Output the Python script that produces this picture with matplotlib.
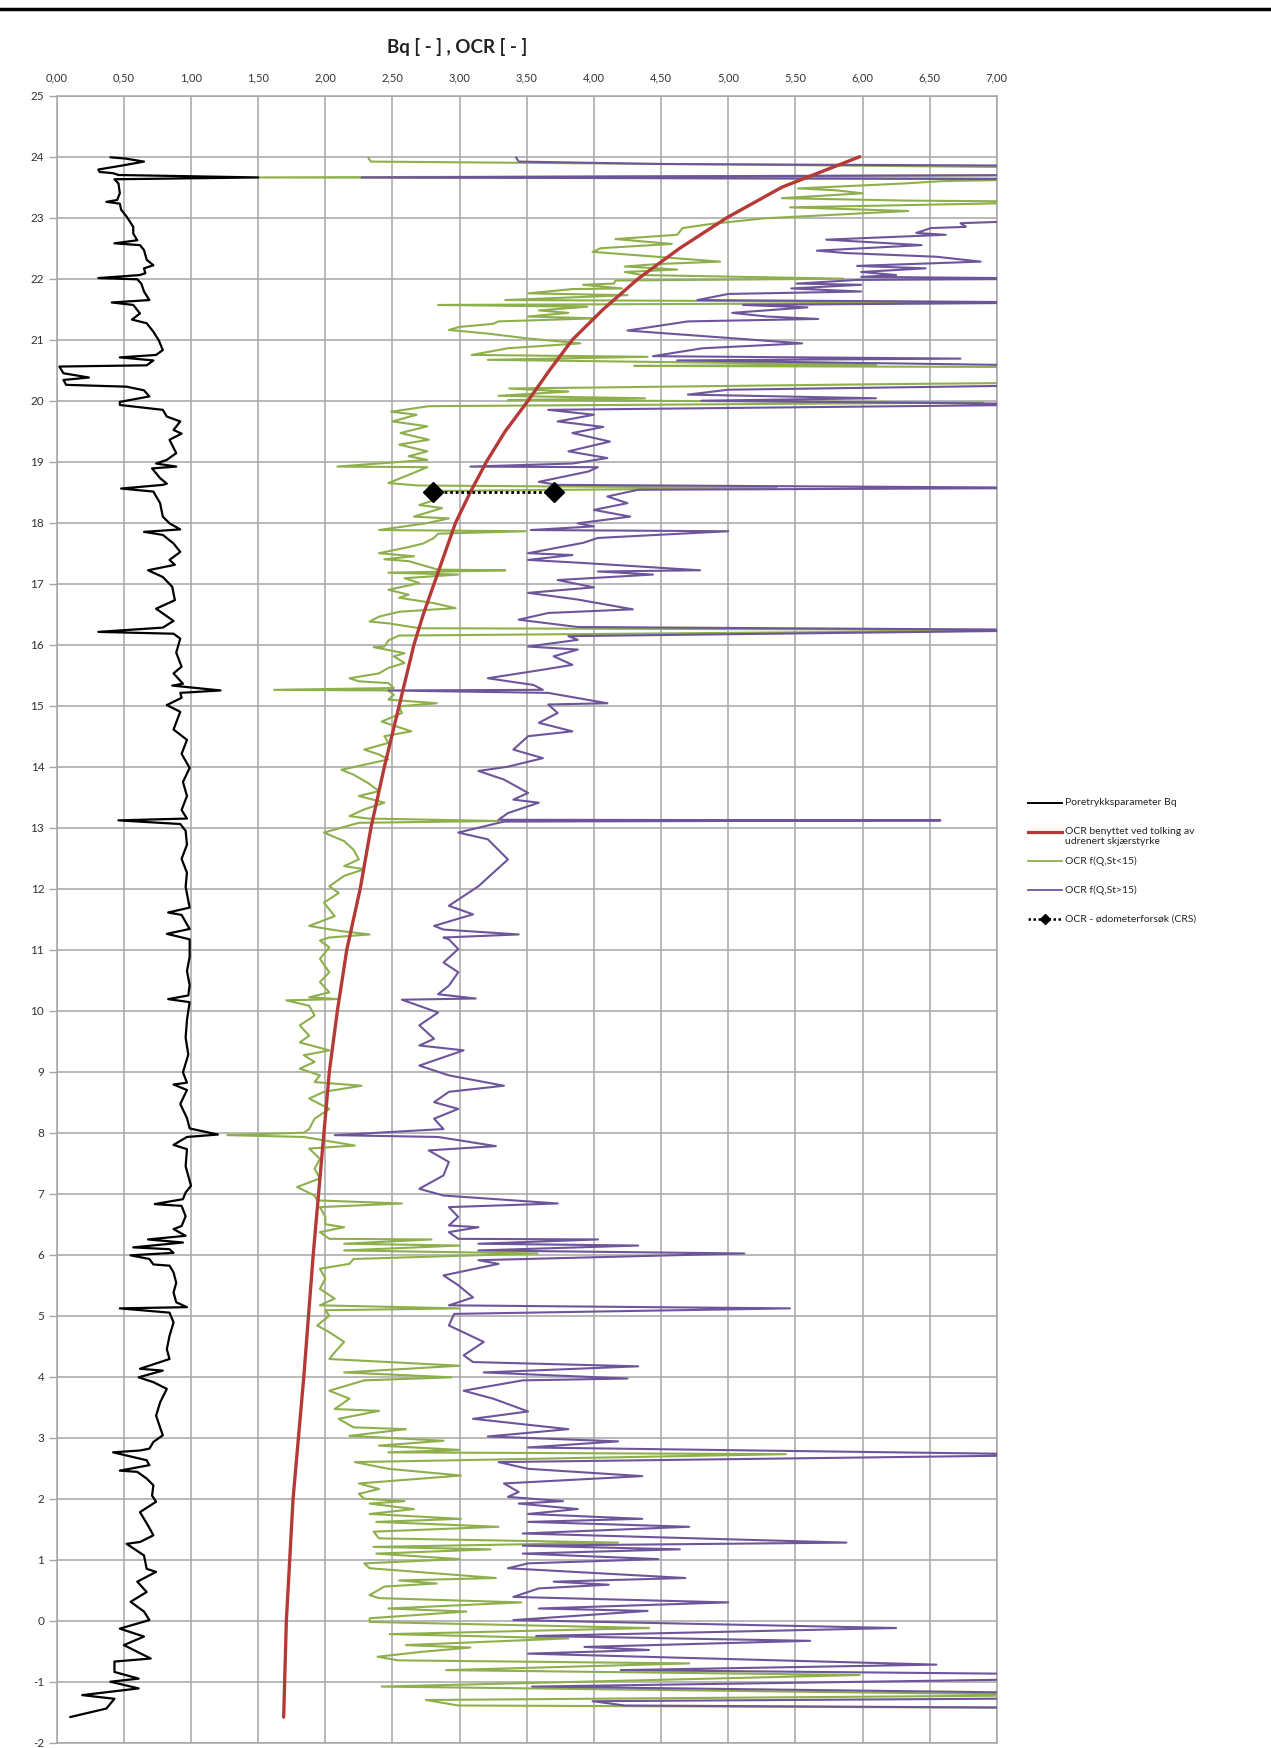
import matplotlib
matplotlib.use("Agg")
import matplotlib.pyplot as plt
from matplotlib.lines import Line2D

plt.rcParams['font.family'] = ['Lato', 'DejaVu Sans']
plt.rcParams['axes.unicode_minus'] = False

# ---------------- data (value, depth) ----------------
X_TICKS = [0.0, 0.5, 1.0, 1.5, 2.0, 2.5, 3.0, 3.5, 4.0, 4.5, 5.0, 5.5, 6.0, 6.5, 7.0]
X_LABELS = ["0,00", "0,50", "1,00", "1,50", "2,00", "2,50", "3,00", "3,50",
            "4,00", "4,50", "5,00", "5,50", "6,00", "6,50", "7,00"]
Y_TICKS = list(range(25, -3, -1))
Y_LABELS = [str(v) for v in Y_TICKS]

BQ = [(0.40,23.99),(0.51,23.97),(0.65,23.92),(0.50,23.86),(0.31,23.79),(0.32,23.75),(0.42,23.73),(0.46,23.70),
      (1.50,23.66),(0.43,23.63),(0.46,23.56),(0.47,23.40),(0.45,23.29),(0.37,23.26),(0.47,23.23),(0.48,23.13),
      (0.52,23.02),(0.57,22.85),(0.57,22.74),(0.60,22.63),(0.43,22.58),(0.62,22.55),(0.65,22.47),(0.67,22.31),
      (0.72,22.22),(0.65,22.17),(0.66,22.09),(0.62,22.06),(0.31,22.01),(0.60,21.99),(0.63,21.92),(0.65,21.79),
      (0.69,21.65),(0.41,21.61),(0.57,21.57),(0.62,21.43),(0.56,21.33),(0.67,21.27),(0.72,21.13),(0.76,20.99),
      (0.79,20.83),(0.74,20.75),(0.47,20.71),(0.72,20.66),(0.67,20.58),(0.02,20.56),(0.05,20.45),(0.24,20.38),
      (0.05,20.34),(0.07,20.26),(0.52,20.23),(0.65,20.17),(0.69,20.07),(0.47,19.98),(0.47,19.93),(0.79,19.85),
      (0.82,19.74),(0.92,19.66),(0.87,19.52),(0.93,19.46),(0.84,19.36),(0.89,19.14),(0.82,19.03),(0.74,18.97),
      (0.89,18.92),(0.71,18.89),(0.77,18.73),(0.82,18.64),(0.79,18.62),(0.48,18.56),(0.72,18.51),(0.77,18.32),
      (0.79,18.10),(0.84,17.99),(0.92,17.89),(0.65,17.85),(0.79,17.80),(0.87,17.66),(0.92,17.52),(0.84,17.39),
      (0.88,17.31),(0.68,17.22),(0.79,17.11),(0.86,16.95),(0.88,16.73),(0.74,16.59),(0.87,16.39),(0.79,16.28),
      (0.31,16.21),(0.87,16.18),(0.92,16.10),(0.89,15.87),(0.93,15.64),(0.87,15.53),(0.94,15.36),(0.86,15.33),
      (1.22,15.25),(0.92,15.21),(0.93,15.13),(0.82,15.01),(0.92,14.90),(0.87,14.61),(0.97,14.44),(0.93,14.21),
      (0.99,13.98),(0.94,13.75),(0.97,13.52),(0.93,13.29),(0.97,13.15),(0.46,13.12),(0.92,13.06),(0.96,12.95),
      (0.97,12.72),(0.93,12.49),(0.97,12.26),(0.96,12.03),(0.98,11.80),(0.99,11.69),(0.83,11.61),(0.93,11.57),
      (0.99,11.34),(0.82,11.26),(0.99,11.17),(0.99,10.88),(0.97,10.65),(0.99,10.42),(0.98,10.25),(0.83,10.19),
      (0.99,10.14),(0.97,9.85),(0.96,9.56),(0.98,9.28),(0.94,8.99),(0.97,8.82),(0.87,8.79),(0.97,8.70),
      (0.92,8.47),(0.97,8.24),(0.99,8.07),(1.20,7.97),(0.97,7.93),(0.87,7.80),(0.97,7.73),(0.96,7.45),
      (1.00,7.13),(0.96,7.02),(0.94,6.91),(0.73,6.83),(0.93,6.80),(0.96,6.63),(0.93,6.47),(0.87,6.42),
      (0.96,6.31),(0.68,6.25),(0.94,6.20),(0.57,6.12),(0.84,6.09),(0.87,6.03),(0.55,5.99),(0.69,5.93),
      (0.72,5.84),(0.84,5.82),(0.87,5.71),(0.89,5.54),(0.87,5.38),(0.89,5.22),(0.97,5.14),(0.47,5.12),
      (0.84,5.05),(0.87,4.89),(0.84,4.67),(0.82,4.45),(0.84,4.29),(0.69,4.18),(0.62,4.13),(0.79,4.10),
      (0.61,3.99),(0.72,3.91),(0.82,3.80),(0.77,3.58),(0.74,3.36),(0.79,3.04),(0.72,2.93),(0.69,2.82),
      (0.62,2.79),(0.42,2.76),(0.67,2.63),(0.69,2.55),(0.47,2.46),(0.60,2.44),(0.67,2.33),(0.72,2.22),
      (0.71,2.05),(0.74,1.95),(0.62,1.78),(0.68,1.56),(0.72,1.40),(0.62,1.29),(0.52,1.26),(0.65,1.07),
      (0.67,0.85),(0.74,0.80),(0.60,0.64),(0.67,0.47),(0.55,0.31),(0.65,0.15),(0.69,0.01),(0.47,-0.13),
      (0.65,-0.26),(0.50,-0.40),(0.70,-0.62),(0.43,-0.67),(0.43,-0.84),(0.61,-0.95),(0.40,-1.00),(0.61,-1.11),
      (0.19,-1.22),(0.43,-1.28),(0.37,-1.44),(0.10,-1.58)]

OCR_RED = [(1.69,-1.58),(1.71,0.0),(1.76,2.0),(1.84,4.0),(1.91,6.0),(1.95,7.0),(1.99,8.0),(2.03,9.0),
           (2.09,10.0),(2.16,11.0),(2.26,12.0),(2.34,13.0),(2.44,14.0),(2.55,15.0),(2.66,16.0),(2.73,16.5),
           (2.81,17.0),(2.89,17.5),(2.97,18.0),(3.08,18.5),(3.20,19.0),(3.34,19.5),(3.51,20.0),(3.67,20.5),
           (3.84,21.0),(4.07,21.5),(4.33,22.0),(4.64,22.5),(4.99,23.0),(5.40,23.5),(5.98,24.0)]

OCR_GREEN = [(2.32,23.98),(2.34,23.92),(4.6,23.88),(7.6,23.82),(7.6,23.70),(1.50,23.66),(7.6,23.64),(6.6,23.60),
    (6.3,23.56),(5.52,23.48),(5.8,23.45),(6.0,23.40),(5.40,23.32),(6.34,23.28),(7.6,23.26),(5.46,23.17),
    (6.34,23.11),(5.27,22.99),(4.88,22.90),(4.66,22.83),(4.62,22.72),(4.16,22.65),(4.58,22.57),(4.05,22.50),
    (3.99,22.44),(4.94,22.28),(4.47,22.24),(4.23,22.20),(4.62,22.15),(4.23,22.11),(4.36,22.06),(5.86,22.00),
    (4.16,21.97),(4.15,21.92),(3.92,21.90),(4.21,21.84),(3.84,21.83),(3.51,21.76),(4.25,21.73),(3.34,21.65),
    (7.6,21.61),(2.84,21.57),(3.95,21.54),(3.59,21.48),(3.81,21.44),(3.51,21.38),(4.01,21.35),(3.29,21.30),
    (3.25,21.26),(3.00,21.21),(2.92,21.16),(3.21,21.10),(3.51,21.02),(3.90,20.94),(3.36,20.86),(3.09,20.75),
    (4.40,20.72),(3.21,20.67),(6.10,20.59),(4.30,20.57),(7.6,20.55),(7.6,20.30),(6.10,20.27),(3.37,20.20),
    (3.81,20.15),(3.29,20.08),(4.38,20.04),(3.36,20.01),(6.90,19.97),(2.77,19.91),(2.49,19.82),(2.68,19.77),
    (2.50,19.66),(2.76,19.58),(2.56,19.47),(2.77,19.36),(2.55,19.28),(2.76,19.17),(2.62,19.09),(2.76,19.03),
    (2.09,18.92),(2.76,18.91),(2.65,18.81),(2.47,18.65),(2.69,18.61),(5.36,18.57),(2.80,18.52),(2.81,18.37),
    (2.70,18.29),(2.87,18.24),(2.66,18.10),(2.92,18.07),(2.75,17.99),(2.40,17.88),(3.49,17.86),(2.84,17.82),
    (2.81,17.75),(2.73,17.66),(2.62,17.60),(2.40,17.50),(2.66,17.45),(2.44,17.40),(2.62,17.37),(2.84,17.23),
    (3.34,17.22),(2.47,17.18),(2.99,17.15),(2.59,17.09),(2.70,17.01),(2.47,16.90),(2.62,16.82),(2.55,16.77),
    (2.81,16.68),(2.97,16.60),(2.55,16.54),(2.40,16.46),(2.33,16.38),(2.47,16.35),(2.70,16.27),(7.6,16.24),
    (2.55,16.15),(2.47,16.07),(2.44,15.97),(2.36,15.96),(2.59,15.86),(2.51,15.81),(2.59,15.70),(2.47,15.62),
    (2.40,15.53),(2.18,15.45),(2.25,15.40),(2.47,15.37),(2.51,15.29),(1.62,15.26),(2.47,15.25),(2.51,15.18),
    (2.47,15.10),(2.83,15.04),(2.55,14.99),(2.57,14.88),(2.42,14.74),(2.64,14.58),(2.44,14.50),(2.47,14.39),
    (2.29,14.28),(2.40,14.20),(2.47,14.12),(2.12,13.95),(2.21,13.87),(2.32,13.73),(2.40,13.60),(2.25,13.52),
    (2.44,13.41),(2.29,13.30),(2.18,13.19),(2.32,13.15),(3.29,13.11),(2.25,13.08),(1.99,12.92),(2.14,12.78),
    (2.21,12.64),(2.25,12.48),(2.14,12.37),(2.29,12.32),(2.14,12.21),(2.03,12.04),(2.10,11.93),(1.99,11.77),
    (2.07,11.55),(1.88,11.39),(2.10,11.31),(2.33,11.25),(2.03,11.20),(1.96,11.15),(2.03,11.04),(1.96,10.85),
    (2.03,10.63),(1.96,10.47),(2.03,10.30),(1.88,10.22),(2.10,10.19),(1.71,10.17),(1.88,10.08),(1.92,9.92),
    (1.81,9.76),(1.88,9.59),(1.81,9.48),(2.03,9.35),(1.84,9.27),(1.92,9.16),(1.81,9.05),(1.96,8.94),
    (1.92,8.83),(2.27,8.77),(1.99,8.67),(1.88,8.56),(2.03,8.39),(1.92,8.23),(1.88,8.06),(1.84,8.00),
    (1.27,7.96),(1.84,7.93),(2.22,7.79),(1.88,7.74),(1.96,7.57),(1.92,7.41),(1.96,7.25),(1.79,7.11),
    (1.92,6.97),(1.94,6.89),(2.57,6.84),(1.96,6.78),(2.00,6.62),(2.00,6.50),(2.14,6.45),(1.96,6.37),
    (2.03,6.26),(2.79,6.25),(2.14,6.18),(3.00,6.15),(2.14,6.07),(3.58,6.02),(2.21,5.93),(2.18,5.85),
    (1.96,5.77),(2.00,5.61),(1.96,5.44),(2.07,5.28),(1.96,5.17),(3.00,5.12),(2.00,5.09),(2.03,5.00),
    (1.94,4.84),(2.03,4.73),(2.14,4.57),(2.07,4.40),(2.03,4.29),(3.00,4.18),(2.14,4.07),(2.94,3.99),
    (2.29,3.94),(2.03,3.77),(2.18,3.64),(2.07,3.47),(2.40,3.44),(2.10,3.31),(2.21,3.17),(2.60,3.14),
    (2.18,3.03),(2.88,2.95),(2.40,2.87),(3.00,2.80),(2.47,2.76),(5.43,2.73),(2.22,2.60),(2.47,2.49),
    (3.01,2.38),(2.25,2.25),(2.40,2.16),(2.25,2.08),(2.29,2.00),(2.59,1.96),(2.33,1.92),(2.66,1.83),
    (2.33,1.75),(3.01,1.67),(2.38,1.62),(3.29,1.54),(2.36,1.46),(2.40,1.35),(4.18,1.28),(2.36,1.21),
    (3.23,1.17),(2.38,1.10),(3.00,1.01),(2.29,0.94),(2.33,0.86),(3.27,0.70),(2.55,0.66),(2.83,0.61),
    (2.44,0.56),(2.33,0.42),(2.40,0.37),(3.46,0.30),(2.47,0.20),(3.05,0.15),(2.33,0.04),(2.33,-0.02),
    (4.41,-0.12),(2.48,-0.22),(3.81,-0.29),(2.60,-0.40),(3.08,-0.44),(2.72,-0.51),(2.39,-0.59),(2.54,-0.65),
    (4.71,-0.70),(2.90,-0.81),(5.98,-0.89),(2.42,-1.08),(7.6,-1.22),(2.75,-1.30),(2.99,-1.39),(7.6,-1.43)]

OCR_PURPLE = [(3.42,23.99),(3.44,23.92),(4.5,23.88),(7.6,23.85),(7.6,23.70),(2.27,23.66),(7.6,23.63),(7.6,22.95),
    (7.00,22.93),(6.73,22.91),(6.77,22.85),(6.51,22.83),(6.40,22.75),(6.62,22.72),(5.73,22.64),(6.44,22.55),
    (5.66,22.46),(5.88,22.42),(6.55,22.36),(6.88,22.28),(5.96,22.21),(6.47,22.17),(5.99,22.11),(6.25,22.06),
    (5.99,22.03),(7.6,22.00),(5.96,21.98),(5.51,21.92),(5.99,21.90),(5.47,21.84),(5.99,21.79),(5.00,21.75),
    (4.77,21.65),(7.6,21.61),(5.11,21.57),(5.59,21.53),(5.03,21.44),(5.29,21.38),(5.67,21.34),(4.70,21.30),
    (4.25,21.15),(5.55,20.94),(4.81,20.86),(4.44,20.73),(6.73,20.69),(4.62,20.66),(7.6,20.57),(7.6,20.30),
    (7.6,20.26),(5.00,20.18),(4.70,20.10),(6.10,20.04),(4.80,20.00),(7.6,19.94),(3.66,19.85),(4.00,19.77),
    (3.73,19.66),(4.07,19.57),(3.84,19.47),(4.12,19.33),(3.81,19.17),(4.10,19.06),(3.84,18.97),(3.08,18.92),
    (4.03,18.91),(3.96,18.84),(3.59,18.67),(3.73,18.62),(7.6,18.57),(4.33,18.54),(4.10,18.43),(4.25,18.32),
    (4.00,18.21),(4.27,18.10),(3.88,17.99),(4.00,17.94),(3.53,17.88),(5.00,17.86),(4.03,17.75),(3.92,17.67),
    (3.51,17.50),(3.84,17.47),(3.51,17.39),(3.92,17.34),(4.79,17.22),(4.03,17.20),(4.44,17.15),(3.73,17.06),
    (4.00,16.94),(3.51,16.85),(3.88,16.74),(4.29,16.58),(3.66,16.52),(3.44,16.41),(3.88,16.29),(7.6,16.24),
    (3.81,16.14),(3.88,16.08),(3.51,15.97),(3.88,15.92),(3.70,15.81),(3.84,15.67),(3.62,15.59),(3.21,15.45),
    (3.55,15.34),(3.62,15.26),(2.47,15.25),(3.66,15.21),(4.10,15.04),(3.66,15.02),(3.73,14.88),(3.59,14.72),
    (3.84,14.58),(3.51,14.50),(3.40,14.28),(3.62,14.14),(3.36,14.00),(3.14,13.93),(3.33,13.79),(3.51,13.57),
    (3.40,13.46),(3.59,13.41),(3.36,13.24),(3.29,13.13),(6.58,13.12),(3.33,13.10),(2.99,12.92),(3.21,12.81),
    (3.36,12.48),(3.25,12.26),(3.14,12.04),(3.03,11.88),(2.92,11.72),(3.10,11.58),(2.81,11.39),(2.88,11.33),
    (3.44,11.25),(2.88,11.20),(2.92,11.17),(2.99,11.01),(2.88,10.79),(2.99,10.63),(2.92,10.41),(2.84,10.27),
    (3.12,10.20),(2.57,10.18),(2.84,9.97),(2.70,9.76),(2.81,9.54),(2.70,9.43),(3.03,9.35),(2.70,9.10),
    (2.92,8.94),(3.33,8.77),(2.92,8.67),(2.81,8.50),(2.99,8.39),(2.81,8.23),(2.88,8.06),(2.07,7.96),
    (2.84,7.93),(3.27,7.78),(2.77,7.71),(2.92,7.52),(2.88,7.30),(2.70,7.08),(2.88,6.97),(3.73,6.84),
    (2.92,6.78),(2.99,6.62),(2.92,6.48),(3.14,6.45),(2.92,6.37),(2.99,6.26),(4.03,6.25),(3.14,6.18),
    (4.33,6.15),(3.14,6.07),(5.12,6.02),(3.14,5.91),(3.29,5.85),(2.88,5.66),(2.99,5.50),(3.10,5.30),
    (2.92,5.17),(5.46,5.12),(2.96,5.03),(2.92,4.84),(3.18,4.57),(3.03,4.35),(3.10,4.24),(4.33,4.17),
    (3.18,4.07),(4.25,3.97),(3.47,3.94),(3.03,3.77),(3.25,3.64),(3.51,3.43),(3.10,3.31),(3.81,3.14),
    (3.21,3.02),(4.18,2.94),(3.51,2.84),(7.6,2.72),(3.29,2.60),(3.51,2.49),(4.36,2.37),(3.33,2.25),
    (3.44,2.11),(3.36,2.03),(3.77,1.96),(3.44,1.92),(3.88,1.83),(3.51,1.75),(4.36,1.67),(3.51,1.62),
    (4.71,1.54),(3.47,1.43),(5.88,1.28),(3.47,1.23),(4.64,1.17),(3.47,1.10),(4.48,1.01),(3.51,0.94),
    (3.36,0.86),(4.68,0.70),(3.70,0.64),(4.11,0.59),(3.59,0.53),(3.40,0.39),(5.00,0.30),(3.59,0.20),
    (4.40,0.16),(3.40,0.01),(6.25,-0.12),(3.57,-0.25),(5.61,-0.33),(3.93,-0.43),(4.41,-0.48),(3.51,-0.54),
    (6.55,-0.72),(4.20,-0.81),(7.6,-0.88),(7.6,-0.95),(3.54,-1.08),(7.6,-1.19),(7.6,-1.27),(3.99,-1.32),
    (4.23,-1.39),(7.6,-1.43)]

CRS_OCR = [2.80, 3.70]
CRS_DEPTH = [18.5, 18.5]

LEGEND_LABELS = ["Poretrykksparameter Bq",
                 "OCR benyttet ved tolking av\nudrenert skjærstyrke",
                 "OCR f(Q,St<15)",
                 "OCR f(Q,St>15)",
                 "OCR - ødometerforsøk (CRS)"]

C_BQ = "#000000"
C_RED = "#B53A37"
C_GREEN = "#8DB04C"
C_PURPLE = "#6E559B"
C_GRID = "#A6A6A6"

# ---------------- figure ----------------
W, H = 1271, 1748
fig = plt.figure(figsize=(W / 100, H / 100), dpi=100)
L, R, T, B = 56.7, 996.8, 95.7, 1742.7
ax = fig.add_axes([L / W, (H - B) / H, (R - L) / W, (B - T) / H])
ax.set_xlim(0, 7)
ax.set_ylim(-2, 25)

def unz(pts):
    return [p[0] for p in pts], [p[1] for p in pts]

gx, gy = unz(OCR_GREEN)
px, py = unz(OCR_PURPLE)
bx, by = unz(BQ)
rx, ry = unz(OCR_RED)

kw = dict(solid_joinstyle='round', solid_capstyle='round')
ax.plot(gx, gy, color=C_GREEN, lw=1.5, zorder=3, **kw)
ax.plot(px, py, color=C_PURPLE, lw=1.5, zorder=4, **kw)
ax.plot(bx, by, color=C_BQ, lw=1.6, zorder=5, **kw)
ax.plot(rx, ry, color=C_RED, lw=2.4, zorder=6, **kw)
ax.plot(CRS_OCR, CRS_DEPTH, color='black', lw=2.0, ls=(0, (1, 1)), marker='D',
        markersize=10, zorder=7)

ax.set_xticks(X_TICKS)
ax.set_xticklabels(X_LABELS)
ax.set_yticks(Y_TICKS)
ax.set_yticklabels(Y_LABELS)
ax.xaxis.tick_top()
ax.tick_params(axis='x', top=True, bottom=False, length=0, pad=9, labelsize=8, labelcolor='#333333')
ax.tick_params(axis='y', length=6, width=1.0, color=C_GRID, pad=3, labelsize=8.5, labelcolor='#333333')
ax.grid(True, color=C_GRID, lw=1.1, zorder=0)
ax.set_axisbelow(True)
for s in ax.spines.values():
    s.set_color(C_GRID)
    s.set_linewidth(1.1)

# title
fig.text(457 / W, 1 - 47 / H, "Bq [ - ] , OCR [ - ]", ha='center', va='center',
         fontsize=13.5, fontweight='bold', color='#222222')

# top border line
fig.add_artist(Line2D([0, 1], [1 - 9 / H, 1 - 9 / H], color='black', lw=2.5, transform=fig.transFigure))

# legend (manual)
lx0, lx1, tx = 1028 / W, 1062 / W, 1065 / W
rows = [803, 832, 861, 890, 919]
styles = [dict(color=C_BQ, lw=1.4), dict(color=C_RED, lw=2.3), dict(color=C_GREEN, lw=1.3),
          dict(color=C_PURPLE, lw=1.3), dict(color='black', lw=1.8, ls=(0, (1, 1)))]
for i, (yy, st) in enumerate(zip(rows, styles)):
    yf = 1 - yy / H
    fig.add_artist(Line2D([lx0, lx1], [yf, yf], transform=fig.transFigure, **st))
    if i == 4:
        fig.add_artist(Line2D([(lx0 + lx1) / 2], [yf], transform=fig.transFigure, marker='D',
                              markersize=5, color='black', lw=0))
    if i == 1:
        fig.text(tx, yf + 5 / H, LEGEND_LABELS[i], ha='left', va='top', fontsize=7.5,
                 color='#222222', linespacing=1.15)
    else:
        fig.text(tx, yf, LEGEND_LABELS[i], ha='left', va='center', fontsize=7.5, color='#222222')

fig.savefig("out.png", dpi=100)
